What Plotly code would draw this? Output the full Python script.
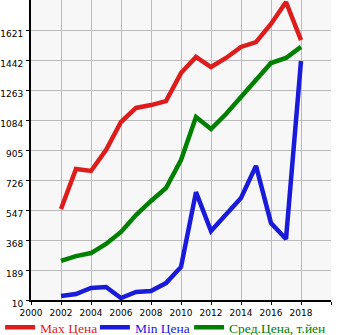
import plotly.graph_objects as go

years = list(range(2002, 2019))
max_price = [553, 792, 780, 905, 1072, 1156, 1173, 1197, 1364, 1460, 1400, 1454, 1520, 1549, 1657, 1788, 1561]
min_price = [34, 46, 82, 88, 22, 58, 64, 111, 207, 654, 422, 517, 619, 810, 469, 374, 1436]
avg_price = [243, 272, 290, 344, 416, 517, 601, 678, 845, 1102, 1030, 1120, 1221, 1323, 1424, 1454, 1520]
y_ticks = [10, 189, 368, 547, 726, 905, 1084, 1263, 1442, 1621]
x_ticks = list(range(2000, 2021, 2))
x_labels = [str(v) for v in range(2000, 2019, 2)] + [""]

names = ["Max Цена", "Min Цена", "Сред.Цена, т.йен"]
colors = ["#dd1c1c", "#1a1adb", "#008000"]
series = [max_price, min_price, avg_price]
legend_ids = ["legend", "legend2", "legend3"]
legend_x = [-0.103, 0.213, 0.527]

fig = go.Figure()
for name, col, vals, lid in zip(names, colors, series, legend_ids):
    fig.add_trace(go.Scatter(x=years, y=vals, mode="lines", legend=lid,
                             name=f'<span style="color:{col}">{name}</span>',
                             line=dict(color=col, width=4.5)))

leg_common = dict(orientation="h", y=-0.04, xanchor="left", yanchor="top",
                  font=dict(family="Liberation Serif", size=13.5),
                  bgcolor="rgba(255,255,255,0)", itemclick=False)
fig.update_layout(
    width=345, height=335,
    margin=dict(l=31, r=14, t=0, b=35, autoexpand=False),
    paper_bgcolor="white", plot_bgcolor="#f7f7f7",
    showlegend=True,
    legend=dict(x=legend_x[0], **leg_common),
    legend2=dict(x=legend_x[1], **leg_common),
    legend3=dict(x=legend_x[2], **leg_common),
    font=dict(family="DejaVu Sans", size=9, color="black"),
)

fig.update_xaxes(range=[2000, 2020], tickvals=x_ticks, ticktext=x_labels,
                 showgrid=True, gridcolor="#bbbbbb",
                 gridwidth=1, showline=True, linecolor="black", linewidth=2,
                 ticks="outside", ticklen=3, tickcolor="black", zeroline=False)
fig.update_yaxes(range=[10, 1800], tickvals=y_ticks, showgrid=True, gridcolor="#bbbbbb",
                 gridwidth=1, showline=True, linecolor="black", linewidth=2,
                 ticks="outside", ticklen=3, tickcolor="black", zeroline=False,
                 ticklabelshift=4, ticklabelstandoff=1)

fig.write_html("out.html")
